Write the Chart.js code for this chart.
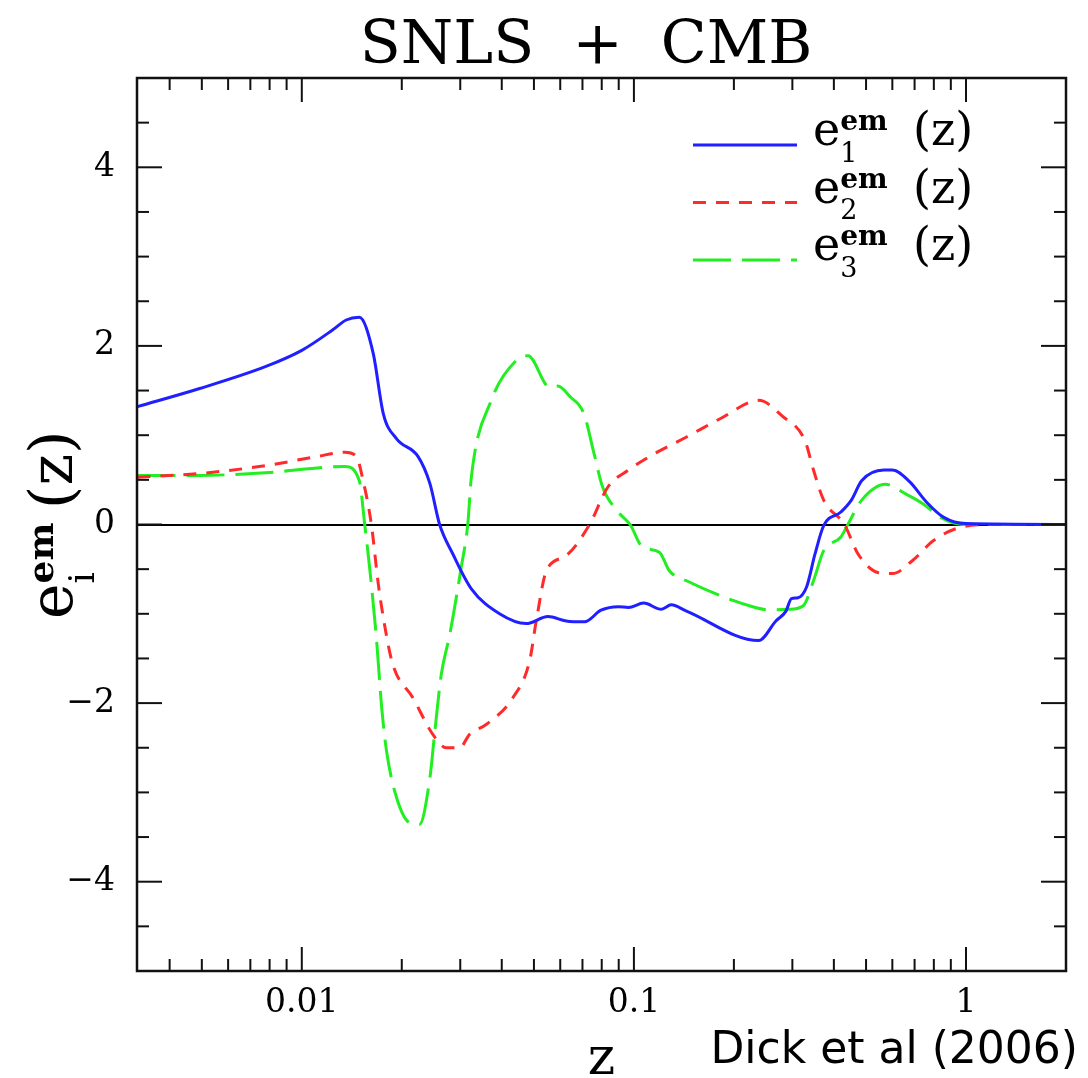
<!DOCTYPE html>
<html>
<head>
<meta charset="utf-8">
<script src="https://cdn.jsdelivr.net/npm/chart.js@4.4.0/dist/chart.umd.min.js"></script>
<style>
  html, body { margin: 0; padding: 0; background: #fff; }
  #wrap { width: 1088px; height: 1078px; position: relative; }
</style>
</head>
<body>
<div id="wrap"><canvas id="chart" width="1088" height="1078"></canvas></div>
<script>
// SNLS + CMB : eigenmodes e_i^em(z), Dick et al (2006)

// --- data ---
const e1Z = [0.0032, 0.0049, 0.0078, 0.010, 0.0124, 0.0136, 0.0149, 0.0164, 0.0176, 0.0193, 0.0224, 0.0243, 0.026, 0.0285, 0.0324, 0.0394, 0.0474, 0.0551, 0.0625, 0.071, 0.0796, 0.0897, 0.0963, 0.107, 0.121, 0.1296, 0.144, 0.2376, 0.2676, 0.287, 0.298, 0.312, 0.331, 0.351, 0.373, 0.42, 0.451, 0.485, 0.566, 0.60, 0.676, 0.761, 0.857, 1.0, 2.0];
const e1Val = [1.32, 1.52, 1.77, 1.95, 2.18, 2.29, 2.32, 1.92, 1.24, 0.96, 0.76, 0.46, 0.0, -0.33, -0.72, -1.00, -1.11, -1.03, -1.08, -1.09, -0.96, -0.92, -0.93, -0.88, -0.95, -0.90, -0.97, -1.30, -1.08, -0.97, -0.83, -0.82, -0.70, -0.33, -0.01, 0.14, 0.27, 0.49, 0.61, 0.61, 0.48, 0.25, 0.08, 0.01, 0.0];

const e2Z = [0.0032, 0.0049, 0.0078, 0.01107, 0.01347, 0.0146, 0.0153, 0.0162, 0.0170, 0.0178, 0.0188, 0.0216, 0.0248, 0.0272, 0.0299, 0.032, 0.0359, 0.0432, 0.0485, 0.0508, 0.0545, 0.0625, 0.0735, 0.0835, 0.0963, 0.1137, 0.144, 0.183, 0.2376, 0.2805, 0.3273, 0.3473, 0.373, 0.4305, 0.473, 0.5457, 0.600, 0.692, 0.798, 0.966, 1.2, 2.0];
const e2Val = [0.53, 0.57, 0.66, 0.76, 0.81, 0.76, 0.49, 0.0, -0.67, -1.15, -1.57, -1.94, -2.35, -2.50, -2.50, -2.35, -2.24, -1.94, -1.53, -1.08, -0.52, -0.35, 0.0, 0.42, 0.61, 0.78, 0.98, 1.19, 1.39, 1.21, 0.94, 0.61, 0.27, 0.0, -0.33, -0.54, -0.55, -0.40, -0.18, -0.03, 0.0, 0.0];

const e3Z = [0.0032, 0.0049, 0.0078, 0.01347, 0.0149, 0.01547, 0.016, 0.0168, 0.0174, 0.018, 0.0193, 0.0211, 0.0226, 0.0243, 0.0251, 0.0263, 0.0279, 0.0302, 0.0316, 0.0324, 0.0372, 0.0443, 0.048, 0.0557, 0.059, 0.0643, 0.0707, 0.0759, 0.0805, 0.0897, 0.0974, 0.106, 0.1193, 0.128, 0.144, 0.2319, 0.255, 0.294, 0.3236, 0.3473, 0.373, 0.420, 0.4407, 0.4846, 0.572, 0.66, 0.7435, 0.8375, 0.98, 2.0];
const e3Val = [0.55, 0.55, 0.58, 0.65, 0.49, 0.0, -0.48, -1.30, -2.05, -2.54, -3.06, -3.34, -3.36, -2.84, -2.35, -1.68, -1.23, -0.48, 0.0, 0.53, 1.39, 1.84, 1.89, 1.54, 1.55, 1.43, 1.24, 0.79, 0.42, 0.14, 0.0, -0.25, -0.31, -0.52, -0.63, -0.93, -0.955, -0.95, -0.91, -0.63, -0.29, -0.14, 0.0, 0.27, 0.45, 0.34, 0.23, 0.08, 0.0, 0.0];

const seriesSubs = ['1', '2', '3'];

// --- axes ---
const zTicks = [0.01, 0.1, 1];
const zMinorTicks = [0.004, 0.005, 0.006, 0.007, 0.008, 0.009, 0.02, 0.03, 0.04, 0.05, 0.06, 0.07, 0.08, 0.09, 0.2, 0.3, 0.4, 0.5, 0.6, 0.7, 0.8, 0.9];
const eTicks = [-4, -2, 0, 2, 4];
const eMinorTicks = [-4.5, -3.5, -3, -2.5, -1.5, -1, -0.5, 0.5, 1, 1.5, 2.5, 3, 3.5, 4.5];

const SERIF = '"DejaVu Serif", serif';

const pairs = (zs, vs) => zs.map((z, i) => ({ x: z, y: vs[i] }));

// inward ticks on all four sides + frame
const frameTicks = {
  id: 'frameTicks',
  afterDatasetsDraw(chart) {
    const { ctx, chartArea: a, scales: { x, y } } = chart;
    ctx.save();
    ctx.strokeStyle = '#111';
    ctx.lineWidth = 2;
    const seg = (x1, y1, x2, y2) => { ctx.beginPath(); ctx.moveTo(x1, y1); ctx.lineTo(x2, y2); ctx.stroke(); };
    const xt = (v, len) => { const p = x.getPixelForValue(v); seg(p, a.bottom, p, a.bottom - len); seg(p, a.top, p, a.top + len); };
    const yt = (v, len) => { const p = y.getPixelForValue(v); seg(a.left, p, a.left + len, p); seg(a.right, p, a.right - len, p); };
    zTicks.forEach(v => xt(v, 24));
    zMinorTicks.forEach(v => xt(v, 12));
    eTicks.forEach(v => yt(v, 25));
    eMinorTicks.forEach(v => yt(v, 12));
    ctx.lineWidth = 2.5;
    ctx.strokeRect(a.left, a.top, a.right - a.left, a.bottom - a.top);
    ctx.restore();
  }
};

// e_i^em (z) symbol
function drawSymbol(ctx, sub, size, parenAt) {
  ctx.font = `${size}px ${SERIF}`;
  ctx.fillText('e', 0, 0);
  const w = ctx.measureText('e').width;
  ctx.font = `600 ${Math.round(size * 0.6)}px ${SERIF}`;
  ctx.fillText('em', w, -size * 0.32);
  ctx.font = `${Math.round(size * 0.58)}px ${SERIF}`;
  ctx.fillText(sub, w, size * 0.36);
  ctx.font = `${size}px ${SERIF}`;
  ctx.fillText('(z)', parenAt, 0);
}

const annotations = {
  id: 'annotations',
  afterDraw(chart) {
    const { ctx } = chart;
    ctx.save();
    ctx.fillStyle = '#000';
    ctx.textAlign = 'left';
    ctx.textBaseline = 'alphabetic';

    // title
    ctx.font = `60px ${SERIF}`;
    ctx.textAlign = 'center';
    ctx.fillText('SNLS  +  CMB', 586, 63);
    ctx.textAlign = 'left';

    // legend
    chart.data.datasets.forEach((ds, i) => {
      const yy = 145 + i * 57.5;
      ctx.save();
      ctx.strokeStyle = ds.borderColor;
      ctx.lineWidth = ds.borderWidth;
      ctx.setLineDash(ds.borderDash || []);
      ctx.beginPath(); ctx.moveTo(693, yy); ctx.lineTo(797, yy); ctx.stroke();
      ctx.restore();
      ctx.save();
      ctx.translate(813, yy);
      drawSymbol(ctx, seriesSubs[i], 46, 100);
      ctx.restore();
    });

    // y-axis title
    ctx.save();
    ctx.translate(72, 619);
    ctx.rotate(-Math.PI / 2);
    drawSymbol(ctx, 'i', 60, 110);
    ctx.restore();

    // credit
    ctx.font = '44px "DejaVu Sans", sans-serif';
    ctx.textAlign = 'right';
    ctx.fillText('Dick et al (2006)', 1078, 1063);
    ctx.restore();
  }
};

new Chart(document.getElementById('chart'), {
  type: 'line',
  data: {
    datasets: [
      { label: 'e1', data: pairs(e1Z, e1Val), borderColor: '#1f1fff', borderWidth: 3, borderDash: [] },
      { label: 'e2', data: pairs(e2Z, e2Val), borderColor: '#ff2a2a', borderWidth: 3, borderDash: [13, 10] },
      { label: 'e3', data: pairs(e3Z, e3Val), borderColor: '#22ee22', borderWidth: 3, borderDash: [38, 11] },
    ],
  },
  options: {
    responsive: false,
    animation: false,
    devicePixelRatio: 1,
    layout: { padding: { top: 78, right: 22, left: 0, bottom: 0 } },
    elements: { point: { radius: 0 }, line: { cubicInterpolationMode: 'monotone', fill: false } },
    plugins: { legend: { display: false }, title: { display: false }, tooltip: { enabled: false } },
    scales: {
      x: {
        type: 'logarithmic',
        min: 0.00319, max: 2,
        afterBuildTicks: s => { s.ticks = zTicks.map(v => ({ value: v })); },
        afterFit: s => { s.height = 107; },
        grid: { display: false, drawTicks: false },
        border: { display: false },
        ticks: { autoSkip: false, maxRotation: 0, padding: 13, color: '#000', font: { family: SERIF, size: 33 }, callback: v => String(v) },
        title: { display: true, text: 'z', color: '#000', font: { family: SERIF, size: 52, lineHeight: 1 }, padding: { top: 0, bottom: -8 } },
      },
      y: {
        type: 'linear',
        min: -5, max: 5,
        afterBuildTicks: s => { s.ticks = eTicks.map(v => ({ value: v })); },
        afterFit: s => { s.width = 137; },
        grid: { drawTicks: false, lineWidth: 2, color: c => (c.tick && c.tick.value === 0 ? '#000' : 'rgba(0,0,0,0)') },
        border: { display: false },
        ticks: { padding: 22, color: '#000', font: { family: SERIF, size: 33 }, callback: v => (v < 0 ? '\u2212' + Math.abs(v) : String(v)) },
      },
    },
  },
  plugins: [frameTicks, annotations],
});
</script>
</body>
</html>
